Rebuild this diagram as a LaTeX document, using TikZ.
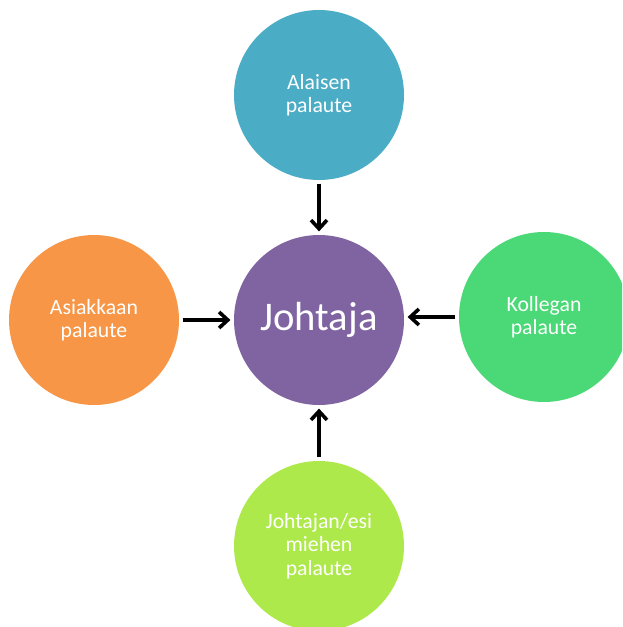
\documentclass[tikz,border=0pt]{standalone}
\usepackage{fontspec}
\setmainfont{Carlito}
\usetikzlibrary{arrows.meta}
\definecolor{johtajaC}{HTML}{8064A2}
\definecolor{alaisenC}{HTML}{4BACC6}
\definecolor{asiakasC}{HTML}{F79646}
\definecolor{kollegaC}{HTML}{4AD976}
\definecolor{esimiesC}{HTML}{AEE94B}

\begin{document}
\begin{tikzpicture}[x=0.75pt, y=-0.75pt,
        pallo/.style={circle, minimum size=127.5pt, inner sep=0pt, text=white,
            align=center, font=\fontsize{16.3}{17.5}\selectfont},
        nuoli/.style={-{Straight Barb[length=6.5pt,width=12pt]}, line width=2.7pt,
            shorten <=2.5pt, shorten >=2.5pt}
    ]
    \useasboundingbox (0,0) rectangle (622,627);
    \clip (0,0) rectangle (622,627);

    \node[pallo, fill=johtajaC, font=\fontsize{30.5}{36}\selectfont] (johtaja) at (319,320) {Johtaja};
    \node[pallo, fill=alaisenC] (alainen) at (319,95) {Alaisen\\palaute};
    \node[pallo, fill=asiakasC] (asiakas) at (94,320) {Asiakkaan\\palaute};
    \node[pallo, fill=kollegaC] (kollega) at (544,317) {Kollegan\\palaute};
    \node[pallo, fill=esimiesC] (esimies) at (319,546) {Johtajan/esi\\miehen\\palaute};

    \draw[nuoli] (alainen) -- (johtaja);
    \draw[nuoli] (asiakas) -- (johtaja);
    \draw[nuoli] (kollega.west) -- (johtaja.east |- kollega.west);
    \draw[nuoli] (esimies) -- (johtaja);
\end{tikzpicture}
\end{document}
